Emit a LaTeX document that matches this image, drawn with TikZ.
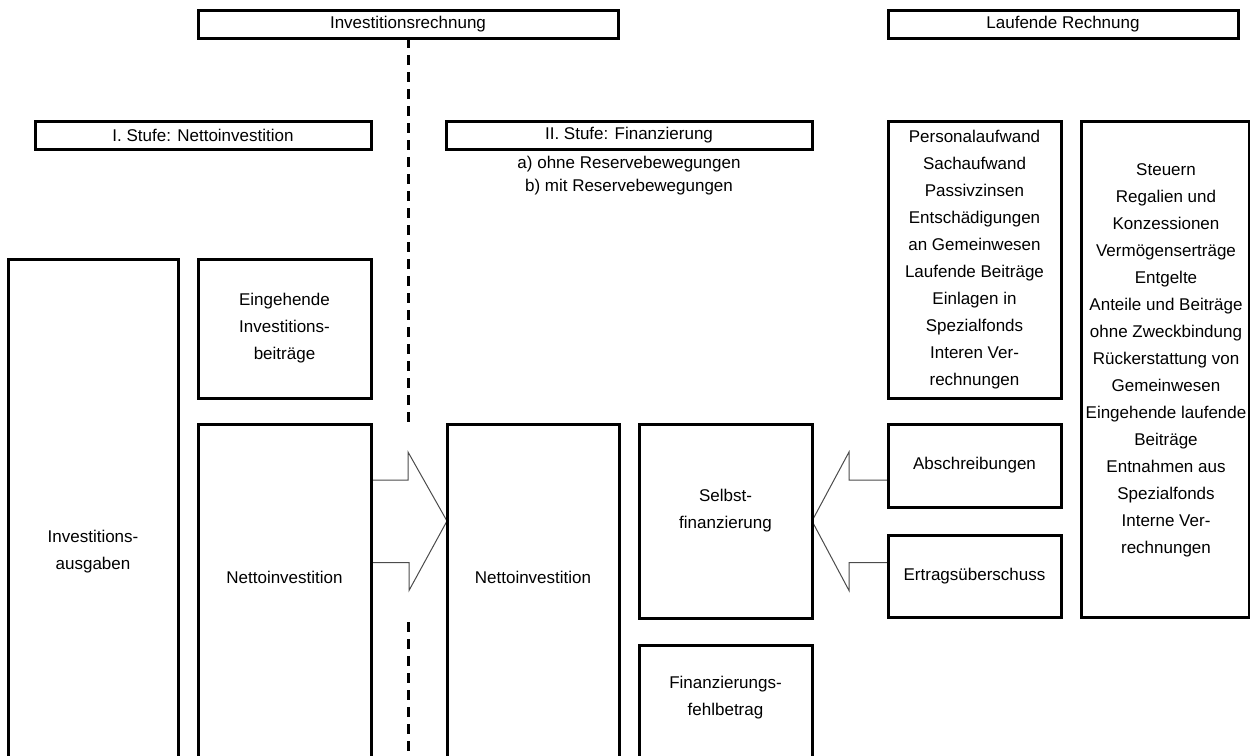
\documentclass[tikz,border=0pt]{standalone}
\usepackage{fontspec}
\setmainfont{Liberation Sans}
\pgfdeclarelayer{bg}
\pgfsetlayers{bg,main}
\tikzset{
  box/.style={draw, line width=3pt, inner sep=0pt, outer sep=0pt, anchor=north west},
  txt/.style={font=\fontsize{17}{27}\selectfont, align=center, inner sep=0pt},
  flowfill/.style={fill=white},
  flow/.style={draw=black!70, line width=1pt, line join=miter},
  sep/.style={line width=3pt, dash pattern=on 10pt off 7pt},
}
\begin{document}
\begin{tikzpicture}[x=1pt,y=-1pt]
\useasboundingbox (0,0) rectangle (1250,755);
% header boxes
\node[box, minimum width=420pt, minimum height=28pt] (ir) at (198,10) {};
\node[txt] (irt) at (ir.center) {Investitionsrechnung};
\node[box, minimum width=350pt, minimum height=28pt] (lr) at (888,10) {};
\node[txt] (lrt) at (lr.center) {Laufende Rechnung};
\node[box, minimum width=336pt, minimum height=28pt] (s1) at (35,121) {};
\node[txt] (s1t) at (s1.center) {I. Stufe: Nettoinvestition};
\node[box, minimum width=366pt, minimum height=28pt] (s2) at (446,121) {};
\node[txt] (s2t) at (s2.center) {II. Stufe: Finanzierung};
\node[txt, font=\fontsize{17}{23.5}\selectfont] (s2sub) at (629,175.5) {a) ohne Reservebewegungen\\b) mit Reservebewegungen};
% separator
\draw[sep] (ir.south) -- (ir.south |- 0,424);
\coordinate (d2) at (408,622);
\coordinate (d3) at (408,760);
\draw[sep] (d2) -- (d3);
% boxes
\node[box, minimum width=170pt, minimum height=600pt] (ia) at (8,259) {};
\node[txt] (iat) at (93,552) {Investitions-\\ausgaben};
\node[box, minimum width=173pt, minimum height=139pt] (eib) at (198,259) {};
\node[txt] (eibt) at (eib.center) {Eingehende\\Investitions-\\beiträge};
\node[box, minimum width=173pt, minimum height=400pt] (ni1) at (198,424) {};
\node[txt] (ni1t) at (284.5,577) {Nettoinvestition};
\node[box, minimum width=172pt, minimum height=400pt] (ni2) at (447,424) {};
\node[txt] (ni2t) at (533,577) {Nettoinvestition};
\node[box, minimum width=173pt, minimum height=194pt] (sf) at (639,424) {};
\node[txt] (sft) at (725.5,510.5) {Selbst-\\finanzierung};
\node[box, minimum width=173pt, minimum height=200pt] (fb) at (639,645) {};
\node[txt] (fbt) at (725.5,697.5) {Finanzierungs-\\fehlbetrag};
\node[box, minimum width=173pt, minimum height=277pt] (pa) at (888,121) {};
\node[txt] (pat) at (pa.center) {Personalaufwand\\Sachaufwand\\Passivzinsen\\Entschädigungen\\an Gemeinwesen\\Laufende Beiträge\\Einlagen in\\Spezialfonds\\Interen Ver-\\rechnungen};
\node[box, minimum width=173pt, minimum height=83pt] (ab) at (888,424) {};
\node[txt] (abt) at (ab.center) {Abschreibungen};
\node[box, minimum width=173pt, minimum height=82pt] (eu) at (888,535) {};
\node[txt] (eut) at (eu.center) {Ertragsüberschuss};
\node[box, minimum width=168.5pt, minimum height=496pt] (st) at (1081,121) {};
\node[txt] (stt) at (1166,360.5) {Steuern\\Regalien und\\Konzessionen\\Vermögenserträge\\Entgelte\\Anteile und Beiträge\\ohne Zweckbindung\\Rückerstattung von\\Gemeinwesen\\Eingehende laufende\\Beiträge\\Entnahmen aus\\Spezialfonds\\Interne Ver-\\rechnungen};
% block arrows (behind the boxes)
\coordinate (a1) at (ni2.west |- sf.east);
\coordinate (a2) at (sf.east);
\begin{pgfonlayer}{bg}
\fill[flowfill] (a1) -- ++(-38,-69.5) -- ++(0,28) -- ++(-37,0) -- ++(0,83) -- ++(37,0) -- ++(0,28) -- cycle;
\draw[flow] (ni1.east |- 0,480) -- ++(37,0) -- ++(0,-28) -- (a1) -- ++(-38,69.5) -- ++(0,-28) -- ++(-37,0);
\fill[flowfill] (a2) -- ++(37,-69.5) -- ++(0,28) -- ++(39,0) -- ++(0,83) -- ++(-39,0) -- ++(0,28) -- cycle;
\draw[flow] (ab.west |- 0,480) -- ++(-39,0) -- ++(0,-28) -- (a2) -- ++(37,69.5) -- ++(0,-28) -- ++(39,0);
\end{pgfonlayer}
\end{tikzpicture}
\end{document}
